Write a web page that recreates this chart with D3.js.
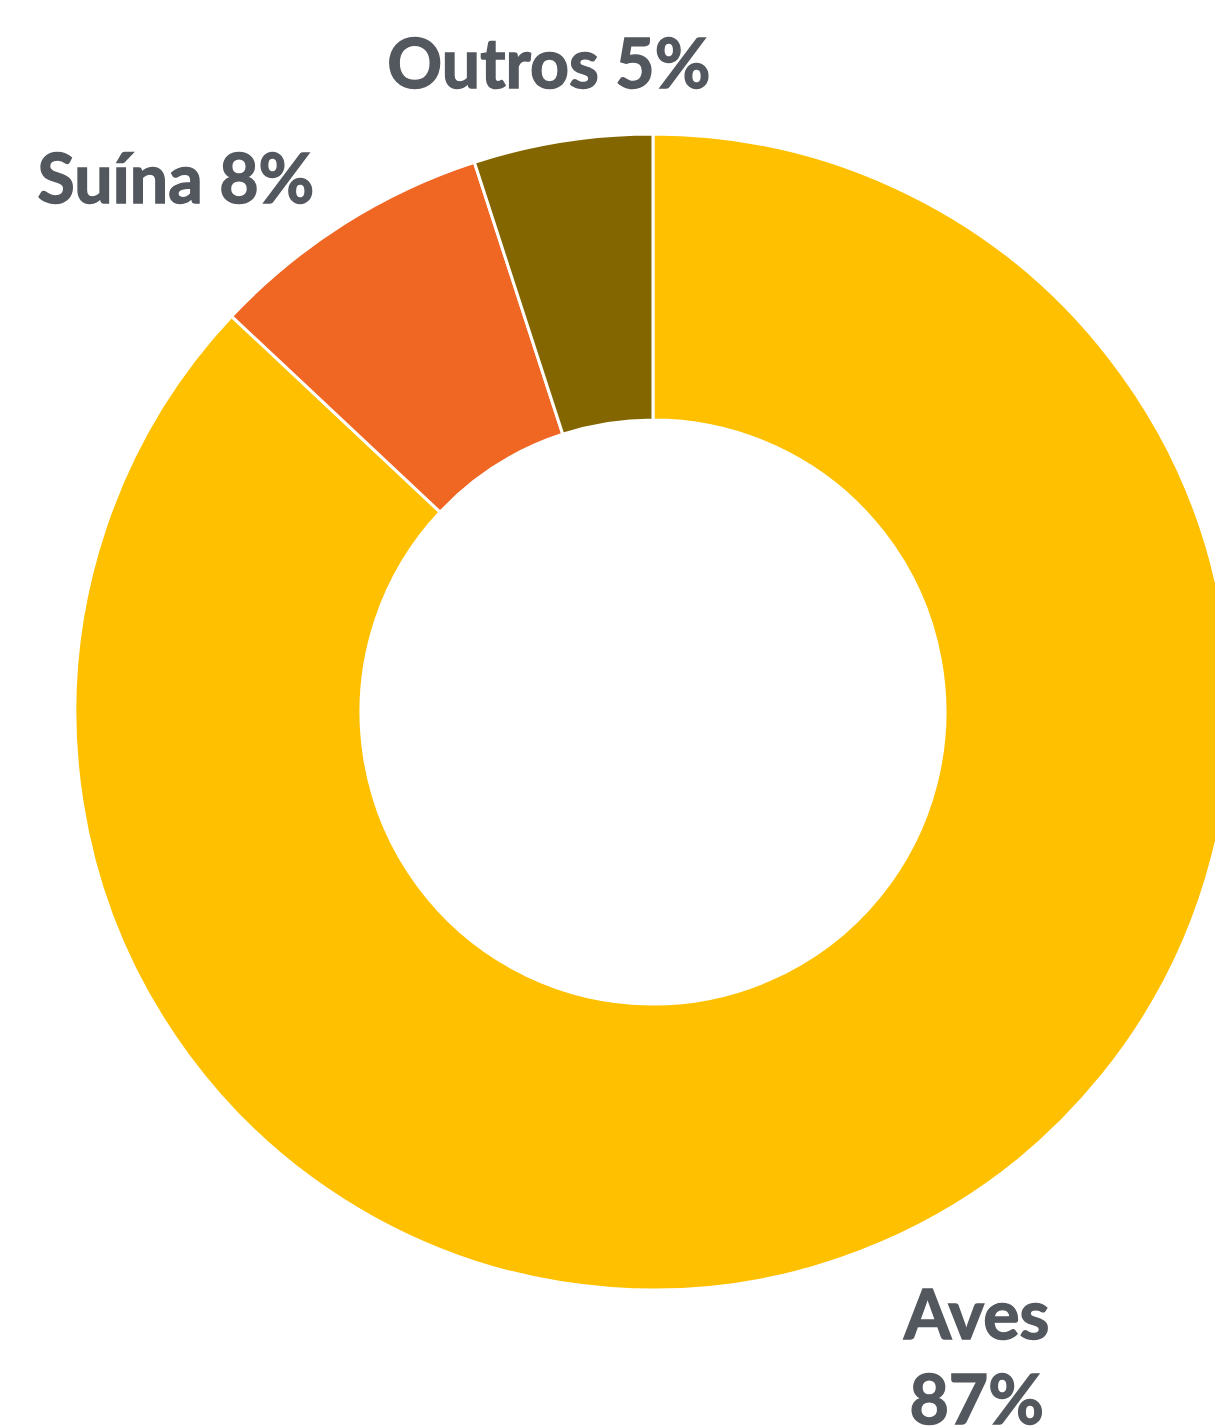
<!DOCTYPE html>
<html>
<head>
<meta charset="utf-8">
<script src="https://cdn.jsdelivr.net/npm/d3@7"></script>
<style>
  html, body { margin: 0; padding: 0; background: #fff; }
  svg { display: block; }
</style>
</head>
<body>
<svg id="chart"></svg>
<script>
// data
const categories = ["Aves", "Suína", "Outros"];
const shares = [87, 8, 5];
const colors = ["#FFC000", "#F06623", "#846600"];
// Aves label is split in two lines in the original
const labelLines = [["Aves", "87%"], ["Suína 8%"], ["Outros 5%"]];

const width = 1215;
const height = 1426;
const cx = 653;
const cy = 712;
const outerR = 578;
const innerR = 292;

const svg = d3.select("#chart")
  .attr("width", width)
  .attr("height", height);

const g = svg.append("g")
  .attr("transform", `translate(${cx}, ${cy})`);

const pie = d3.pie()
  .sort(null)
  .value(d => d.value);

const arc = d3.arc()
  .innerRadius(innerR)
  .outerRadius(outerR);

const data = categories.map((c, i) => ({ name: c, value: shares[i], color: colors[i], lines: labelLines[i] }));
const arcs = pie(data);

g.selectAll("path.slice")
  .data(arcs)
  .enter()
  .append("path")
  .attr("class", "slice")
  .attr("d", arc)
  .attr("fill", d => d.data.color)
  .attr("stroke", "#fff")
  .attr("stroke-width", 3);

// labels: a point on the label box's edge sits on the mid-angle ray
const fontSize = 68;
const capH = fontSize * 0.72;
const lineH = 85;
const labelR = 632;

const labels = g.selectAll("text.lbl")
  .data(arcs)
  .enter()
  .append("text")
  .attr("class", "lbl")
  .attr("font-family", "Lato, 'Open Sans', sans-serif")
  .attr("font-weight", "bold")
  .attr("font-size", fontSize)
  .attr("fill", "#53575E")
  .attr("stroke", "#53575E")
  .attr("stroke-width", 1.4)
  .attr("text-anchor", "middle");

const clamp01 = v => Math.min(1, Math.max(0, v));

labels.each(function(d) {
  const t = d3.select(this);
  const a = (d.startAngle + d.endAngle) / 2;
  const s = Math.sin(a);
  const c = Math.cos(a);
  const n = d.data.lines.length;

  const spans = d.data.lines.map((line, i) =>
    t.append("tspan").attr("dy", i === 0 ? 0 : lineH).text(line));
  const w = d3.max(spans, sp => sp.node().getComputedTextLength());
  const h = capH + (n - 1) * lineH;

  // which point of the box touches the ray: middle near the top, sides further round
  const hx = Math.sign(s) * clamp01((Math.abs(s) - 0.15) / 0.2);
  const hy = Math.sign(c) * clamp01((Math.abs(c) - 0.85) / 0.07);
  const bx = s * labelR + hx * w / 2;
  const by = -c * labelR - hy * h / 2;

  spans.forEach(sp => sp.attr("x", bx));
  t.attr("y", by - h / 2 + capH);
});
</script>
</body>
</html>
